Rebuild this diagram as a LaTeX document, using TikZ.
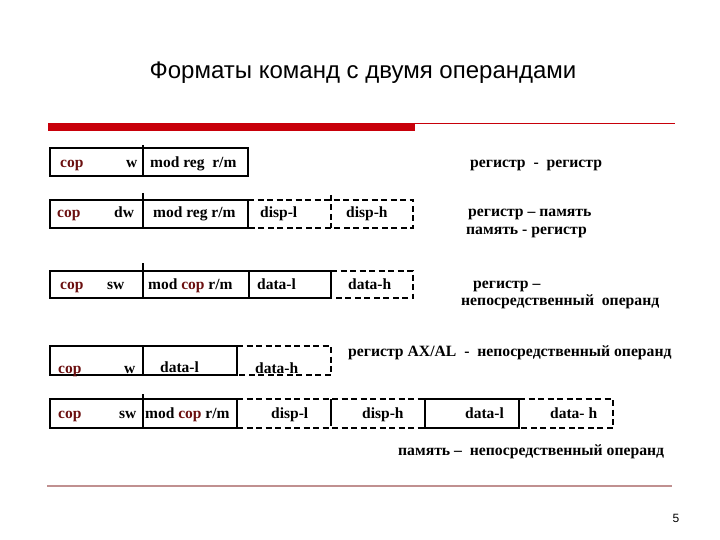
\documentclass[tikz,border=0pt]{standalone}
\usepackage{fontspec}
\setmainfont{Liberation Serif}
\newfontfamily\titlefont{Liberation Sans}
\definecolor{copred}{HTML}{6B0F0F}
\definecolor{barred}{HTML}{C8000A}
\definecolor{lowline}{HTML}{C09090}
\begin{document}
\begin{tikzpicture}[x=1pt,y=-1pt,
  fld/.style={font=\bfseries\fontsize{15.5}{15.5}\selectfont, inner sep=0pt, anchor=base west},
  lbl/.style={font=\bfseries\fontsize{15.7}{15.7}\selectfont, inner sep=0pt, anchor=base west},
  solidbox/.style={draw=black, line width=1.3pt},
  dashbox/.style={draw=black, line width=1.6pt, dash pattern=on 6pt off 3.5pt},
  divline/.style={draw=black, line width=1.3pt},
  cp/.style={text=copred}]
\useasboundingbox (0,0) rectangle (720,540);
% title
\node[font=\titlefont\fontsize{24}{24}\selectfont] (title) at (363,73) {Форматы команд с двумя операндами};
% top bar
\fill[barred] (48,123) rectangle (415,131);
\draw[barred, line width=0.8pt] (415,123.5) -- (675,123.5);
% bottom line
\draw[lowline, line width=2pt] (47,486) -- (672,486);
\node[font=\titlefont\fontsize{12}{12}\selectfont] (pnum) at (676,518) {5};

% Row 1
\draw[solidbox] (50,148) rectangle (248,176);
\draw[divline] (143,145) -- (143,176);
\node[fld,cp] (c1) at (60,168) {cop};
\node[fld] (w1) at (126,168) {w};
\node[fld] (m1) at (150,168) {mod reg\ \ r/m};
\node[lbl] (l1) at (470,168) {регистр\ \ -\ \ регистр};

% Row 2
\draw[solidbox] (50,200) rectangle (248,228);
\draw[divline] (143,193) -- (143,228);
\draw[dashbox] (248,200) -- (413,200) -- (413,228) -- (248,228);
\draw[dashbox] (331,195) -- (331,228);
\node[fld,cp] (c2) at (57,218) {cop};
\node[fld] (w2) at (114,218) {dw};
\node[fld] (m2) at (153,218) {mod reg r/m};
\node[fld] (d2a) at (260,218) {disp-l};
\node[fld] (d2b) at (346,218) {disp-h};
\node[lbl] (l2a) at (468,216) {регистр – память};
\node[lbl] (l2b) at (466,234) {память - регистр};

% Row 3
\draw[solidbox] (50,271) rectangle (331,298);
\draw[divline] (143,263) -- (143,298);
\draw[divline] (249,271) -- (249,298);
\draw[dashbox] (331,271) -- (413,271) -- (413,298) -- (331,298);
\node[fld,cp] (c3) at (60,289) {cop};
\node[fld] (w3) at (107,289) {sw};
\node[fld] (m3a) at (148,289) {mod \textcolor{copred}{cop} r/m};
\node[fld] (d3a) at (257,289) {data-l};
\node[fld] (d3b) at (348,289) {data-h};
\node[lbl] (l3a) at (473,288) {регистр –};
\node[lbl] (l3b) at (461,305) {непосредственный\ \ операнд};

% Row 4
\draw[solidbox] (50,346) rectangle (237,375);
\draw[divline] (143,346) -- (143,375);
\draw[dashbox] (237,346) -- (331,346) -- (331,375) -- (237,375);
\node[fld,cp] (c4) at (58,373) {cop};
\node[fld] (w4) at (124,373) {w};
\node[fld] (d4a) at (160,372) {data-l};
\node[fld] (d4b) at (255,373) {data-h};
\node[lbl] (l4) at (348,356) {регистр AX/AL\ \ -\ \ непосредственный операнд};

% Row 5
\draw[solidbox] (50,399) -- (237,399) -- (237,428) -- (50,428) -- cycle;
\draw[divline] (143,394) -- (143,428);
\draw[dashbox] (237,399) -- (425,399);
\draw[dashbox] (237,428) -- (425,428);
\draw[divline] (331,399) -- (331,426);
\draw[solidbox] (425,399) rectangle (519,428);
\draw[dashbox] (519,399) -- (613,399) -- (613,428) -- (519,428);
\node[fld,cp] (c5) at (58,418) {cop};
\node[fld] (w5) at (119,418) {sw};
\node[fld] (m5) at (145,418) {mod \textcolor{copred}{cop} r/m};
\node[fld] (d5a) at (271,418) {disp-l};
\node[fld] (d5b) at (362,418) {disp-h};
\node[fld] (d5c) at (465,418) {data-l};
\node[fld] (d5d) at (550,418) {data- h};
\node[lbl] (l5) at (398,455) {память –\ \ непосредственный операнд};
\end{tikzpicture}
\end{document}
